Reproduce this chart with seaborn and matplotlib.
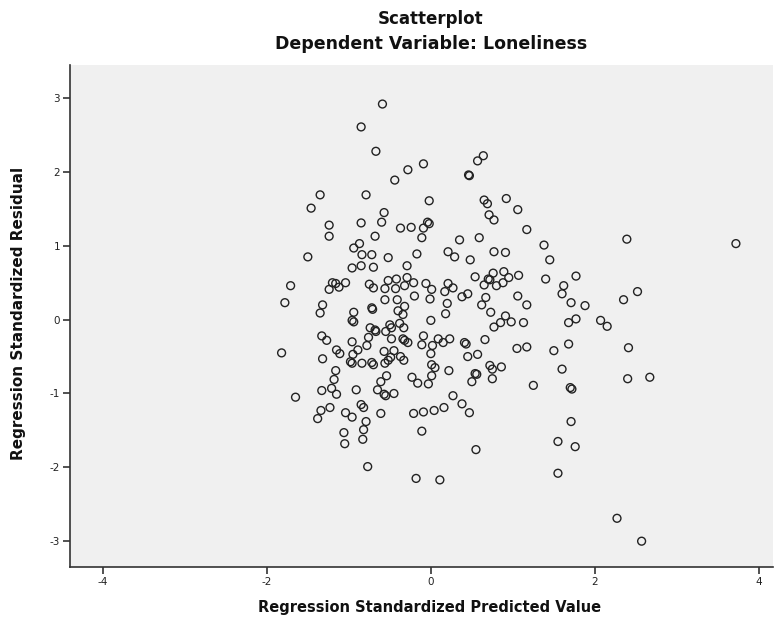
import matplotlib
matplotlib.use("Agg")
import matplotlib.pyplot as plt
import seaborn as sns
import pandas as pd

# Regression diagnostics: standardized predicted value vs standardized residual
predicted = [
    -0.59, -0.85, -0.67, -0.09, -0.28, -0.44, 0.46, 0.47, -1.35, -1.46,
    -0.79, -0.02, -0.57, -0.60, -0.04, -0.02, -0.09, -0.11, -0.37, -0.24,
    -1.24, -1.24, -0.85, -0.68, -0.87, -0.94, -0.84, -0.72, -0.52, -0.17,
    0.21, 0.29, 0.35, -1.50, 0.64, 0.57, 0.65, 0.69, 0.92, 1.06,
    0.71, 0.77, 1.17, 0.59, 1.38, 0.77, 0.91, 0.48, 1.45, 2.39,
    3.72, -1.71, -1.78, -1.82, -1.65, -0.96, -0.85, -0.70, -0.29, -1.20,
    -1.24, -1.12, -1.04, -1.16, -0.75, -0.70, -0.52, -0.42, -0.29, -0.32,
    -0.21, -0.06, 0.01, -0.01, 0.21, 0.27, 0.17, 0.38, 0.45, -0.56,
    -0.43, -0.20, -0.56, -0.41, -1.32, -1.35, -0.94, -0.72, -0.71, -0.40,
    -0.32, -0.34, -0.96, -0.94, 0.20, 0.18, 0.00, -0.74, -0.50, -0.48,
    -0.38, -0.33, -0.67, -0.68, -0.55, -1.33, -1.27, -0.96, -0.76, -0.78,
    -0.48, -0.34, -0.32, -0.28, -0.09, -0.11, 0.02, 0.09, 0.15, 0.23,
    0.41, 0.43, -0.89, -1.15, -1.11, -0.95, -1.32, -0.57, -0.45, -0.49,
    -0.37, -0.33, 0.00, -0.96, -0.98, -0.84, -0.72, -0.70, -0.56, -0.52,
    0.01, 0.05, 0.22, -1.16, -0.54, -1.18, -0.23, -0.16, -0.03, 0.01,
    -0.61, -1.33, -1.21, -1.15, -0.91, -0.65, -0.57, -0.55, -0.45, 0.27,
    0.38, 0.47, -1.34, -1.23, -1.38, -1.04, -0.96, -0.85, -0.82, -0.61,
    -0.79, -0.21, -0.09, 0.04, 0.16, -1.06, -1.05, -0.82, -0.83, -0.77,
    -0.11, -0.18, 0.11, 0.54, 0.76, 0.89, 0.95, 1.07, 0.72, 0.70,
    0.65, 0.80, 0.88, 1.40, 1.77, 1.62, 1.60, 0.67, 0.62, 1.06,
    1.17, 1.71, 1.88, 2.35, 0.73, 0.91, 0.85, 0.98, 0.77, 1.13,
    1.68, 1.77, 2.07, 2.15, 0.66, 0.45, 0.57, 1.05, 1.17, 1.50,
    1.68, 0.72, 0.75, 0.86, 0.54, 0.56, 0.50, 0.75, 1.60, 1.25,
    1.70, 1.72, 1.71, 2.52, 2.41, 2.40, 2.67, 0.55, 1.55, 1.76,
    1.55, 2.27, 2.57,
]
residual = [
    2.92, 2.61, 2.28, 2.11, 2.03, 1.89, 1.96, 1.95, 1.69, 1.51,
    1.69, 1.61, 1.45, 1.32, 1.32, 1.30, 1.24, 1.11, 1.24, 1.25,
    1.28, 1.13, 1.31, 1.13, 1.03, 0.97, 0.88, 0.88, 0.84, 0.89,
    0.92, 0.85, 1.08, 0.85, 2.22, 2.15, 1.62, 1.57, 1.64, 1.49,
    1.42, 1.35, 1.22, 1.11, 1.01, 0.92, 0.91, 0.81, 0.81, 1.09,
    1.03, 0.46, 0.23, -0.45, -1.05, 0.70, 0.73, 0.71, 0.73, 0.50,
    0.41, 0.44, 0.50, 0.49, 0.48, 0.43, 0.53, 0.55, 0.57, 0.46,
    0.50, 0.49, 0.41, 0.28, 0.49, 0.43, 0.38, 0.31, 0.35, 0.42,
    0.42, 0.32, 0.27, 0.27, 0.20, 0.09, 0.10, 0.16, 0.14, 0.12,
    0.18, 0.07, -0.01, -0.03, 0.22, 0.08, -0.01, -0.11, -0.07, -0.11,
    -0.05, -0.11, -0.16, -0.14, -0.16, -0.22, -0.28, -0.30, -0.24, -0.35,
    -0.26, -0.26, -0.28, -0.31, -0.22, -0.34, -0.35, -0.26, -0.31, -0.26,
    -0.31, -0.33, -0.41, -0.41, -0.46, -0.47, -0.53, -0.43, -0.42, -0.51,
    -0.50, -0.55, -0.46, -0.59, -0.57, -0.59, -0.58, -0.61, -0.59, -0.55,
    -0.61, -0.65, -0.69, -0.69, -0.76, -0.81, -0.78, -0.86, -0.87, -0.76,
    -0.84, -0.96, -0.93, -1.01, -0.95, -0.95, -1.01, -1.03, -1.00, -1.03,
    -1.14, -1.26, -1.23, -1.19, -1.34, -1.26, -1.32, -1.15, -1.19, -1.27,
    -1.38, -1.27, -1.25, -1.23, -1.19, -1.53, -1.68, -1.49, -1.62, -1.99,
    -1.51, -2.15, -2.17, 0.58, 0.63, 0.65, 0.57, 0.60, 0.54, 0.55,
    0.47, 0.46, 0.50, 0.55, 0.59, 0.46, 0.35, 0.30, 0.20, 0.32,
    0.20, 0.23, 0.19, 0.27, 0.10, 0.05, -0.04, -0.03, -0.10, -0.04,
    -0.04, 0.01, -0.01, -0.09, -0.27, -0.50, -0.47, -0.39, -0.37, -0.42,
    -0.33, -0.62, -0.67, -0.64, -0.73, -0.74, -0.84, -0.80, -0.67, -0.89,
    -0.92, -0.94, -1.38, 0.38, -0.38, -0.80, -0.78, -1.76, -1.65, -1.72,
    -2.08, -2.69, -3.00,
]

x_ticks = [-4, -2, 0, 2, 4]
y_ticks = [-3, -2, -1, 0, 1, 2, 3]

df = pd.DataFrame({"predicted": predicted, "residual": residual})

sns.set_theme(style="white")
plt.rcParams["font.family"] = ["DejaVu Sans"]

fig = plt.figure(figsize=(7.83, 6.24), dpi=100)
fig.patch.set_facecolor("white")
ax = fig.add_axes([0.0894, 0.0913, 0.8976, 0.8047])
ax.set_facecolor("#F0F0F0")

sns.scatterplot(
    data=df, x="predicted", y="residual", ax=ax,
    marker="o", s=32, facecolor="none", edgecolor="#222222", linewidth=1.0,
    legend=False,
)

ax.set_xlim(-4.40, 4.17)
ax.set_ylim(-3.35, 3.45)
ax.set_xticks(x_ticks)
ax.set_yticks(y_ticks)
ax.set_xticklabels([str(t) for t in x_ticks])
ax.set_yticklabels([str(t) for t in y_ticks])
ax.tick_params(axis="both", direction="out", length=5, width=1.2,
               color="#333333", labelsize=7.5, pad=2, labelcolor="#222222")
ax.tick_params(bottom=True, left=True)

for side in ("top", "right"):
    ax.spines[side].set_visible(False)
for side in ("left", "bottom"):
    ax.spines[side].set_color("#333333")
    ax.spines[side].set_linewidth(1.2)

ax.set_xlabel("Regression Standardized Predicted Value", fontsize=10.5,
              fontweight="bold", color="#111111")
ax.set_ylabel("Regression Standardized Residual", fontsize=11,
              fontweight="bold", color="#111111")
ax.xaxis.set_label_coords(0.5122, -0.066)
ax.yaxis.set_label_coords(-0.062, 0.505)

# Titles centred on the zero line of the predicted-value axis
fig.text(0.5504, 0.969, "Scatterplot", ha="center", va="center",
         fontsize=12, fontweight="bold", color="#111111")
fig.text(0.5504, 0.929, "Dependent Variable: Loneliness", ha="center",
         va="center", fontsize=12.5, fontweight="bold", color="#111111")

fig.savefig("out.png", dpi=100, facecolor="white")
